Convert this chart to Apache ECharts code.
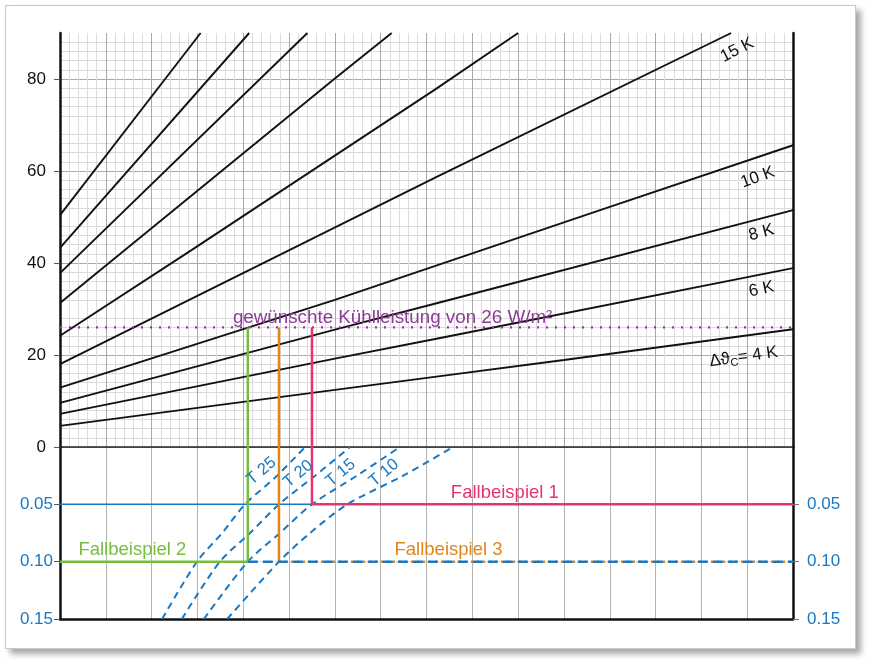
<!DOCTYPE html>
<html><head><meta charset="utf-8">
<script src="https://cdn.jsdelivr.net/npm/echarts@6/dist/echarts.min.js"></script>
<style>
html,body{margin:0;padding:0;background:#fff;}
#card{position:absolute;left:5px;top:5px;width:849px;height:642px;border:1px solid #c8c8c8;background:#fff;box-shadow:5px 5px 6px rgba(0,0,0,0.35);}
#chart{position:absolute;left:0;top:0;width:872px;height:666px;}
</style></head><body>
<div id="card"></div><div id="chart"></div>
<script>
// ---- upper nomogram: cooling power curves (x in grid units, y in W/m²) ----
const line4K  = [[0,4.6],[1,5.9],[4,9.8],[8.3,15.4],[11,18.9],[16,25.6]];
const line6K  = [[0,7.2],[6,19.2],[8.3,23.7],[16,38.9]];
const line8K  = [[0,9.6],[6,25.5],[8.2,31.2],[16,51.5]];
const line10K = [[0,12.9],[6,32.0],[12,52.2],[16,65.6]];
const line15K = [[0,18.0],[8.2,58.6],[14.65,90]];
const lineE   = [[0,24.2],[2.87,42.8],[8.2,77.8],[10.0,90]];
const lineD   = [[0,31.3],[6.0,80.1],[7.24,90]];
const lineC   = [[0,37.8],[5.40,90]];
const lineB   = [[0,43.3],[4.13,90]];
const lineA   = [[0,50.4],[3.07,90]];
const upperLines = [line4K,line6K,line8K,line10K,line15K,lineE,lineD,lineC,lineB,lineA];
const curveLabels = ['15 K','10 K','8 K','6 K','Δϑ_C = 4 K'];

// ---- lower nomogram: T curves (x, value) ----
const curveT25 = [[2.23,0.15],[2.99,0.10],[3.54,0.075],[4.04,0.05],[4.74,0.025],[5.35,0]];
const curveT20 = [[2.66,0.15],[3.49,0.10],[4.15,0.075],[4.78,0.05],[5.57,0.025],[6.33,0]];
const curveT15 = [[3.14,0.15],[4.10,0.10],[4.80,0.075],[5.50,0.05],[6.48,0.025],[7.42,0]];
const curveT10 = [[3.65,0.15],[4.78,0.10],[5.46,0.075],[6.27,0.05],[7.49,0.025],[8.58,0]];
const tLabels = ['T 25','T 20','T 15','T 10'];

// ---- case studies ----
const targetPower = 26;
const targetLabel = 'gewünschte Kühlleistung von 26 W/m²';
const caseNames = ['Fallbeispiel 1','Fallbeispiel 2','Fallbeispiel 3'];
const caseX = [5.5, 4.1, 4.78];       // x position of vertical reading lines
const caseLevel = [0.05, 0.10, 0.10]; // lower scale value
const upperTicks = [0,20,40,60,80];
const lowerTicks = [0.05,0.10,0.15];
const xMax = 16;

const FONT = "'Liberation Sans', Arial, sans-serif";
const C = {black:'#111', purple:'#8e3b97', green:'#76bd3e', orange:'#e0861a', pink:'#e8336f', blue:'#1878c4'};

function line(data, color, width, type, g, extra) {
  return Object.assign({type:'line', data:data, xAxisIndex:g, yAxisIndex:g===0?0:2, symbol:'none', silent:true,
    lineStyle:{color:color, width:width, type:type||'solid'}}, extra||{});
}
function textSeries(g, items) {
  return {type:'scatter', xAxisIndex:g, yAxisIndex:g===0?0:2, symbolSize:0, silent:true, z:20,
    itemStyle:{opacity:1},
    data: items.map(it => ({value:it.p, label:Object.assign({show:true, position:'inside', fontFamily:FONT,
      formatter: it.t, fontSize: it.fs||17, color: it.c, rotate: it.r||0,
      textBorderWidth:0, textBorderColor:'transparent', textShadowBlur:0, opacity:1}, it.extra||{})}))};
}

const series = [];
upperLines.forEach(d => series.push(line(d, C.black, 1.9, 'solid', 0)));
series.push(line([[0,targetPower],[xMax,targetPower]], C.purple, 2.2, [2,7], 0));
// vertical reading lines, upper part
series.push(line([[caseX[1],targetPower],[caseX[1],0]], C.green, 2.5, 'solid', 0, {z:5}));
series.push(line([[caseX[2],targetPower],[caseX[2],0]], C.orange, 2.5, 'solid', 0, {z:5}));
series.push(line([[caseX[0],targetPower],[caseX[0],0]], C.pink, 2.5, 'solid', 0, {z:5}));
// lower part
[curveT25,curveT20,curveT15,curveT10].forEach(d => series.push(line(d, C.blue, 2, [7,5], 1, {smooth:0.3})));
series.push(line([[0,caseLevel[0]],[caseX[0],caseLevel[0]]], C.blue, 1.5, 'solid', 1));
series.push(line([[caseX[0],0],[caseX[0],caseLevel[0]],[xMax,caseLevel[0]]], C.pink, 2.5, 'solid', 1, {z:5}));
series.push(line([[caseX[1],0],[caseX[1],caseLevel[1]],[0,caseLevel[1]]], C.green, 2.5, 'solid', 1, {z:5}));
series.push(line([[caseX[2],0],[caseX[2],caseLevel[2]]], C.orange, 2.5, 'solid', 1, {z:5}));
series.push(line([[caseX[2],caseLevel[2]],[xMax,caseLevel[2]]], C.orange, 2.5, [2,4], 1, {z:4}));
series.push(line([[caseX[1],caseLevel[1]],[xMax,caseLevel[1]]], C.blue, 2.5, [10,5], 1, {z:6}));

// text labels
series.push(textSeries(0, [
  {p:[14.78,86.3], t:curveLabels[0], c:C.black, r:27},
  {p:[15.23,58.6], t:curveLabels[1], c:C.black, r:20},
  {p:[15.31,46.6], t:curveLabels[2], c:C.black, r:15},
  {p:[15.31,34.3], t:curveLabels[3], c:C.black, r:12},
  {p:[14.92,19.6], t:'{a|Δϑ}{s|C}{a|= 4 K}', c:C.black, r:8,
    extra:{rich:{a:{fontSize:17, fontFamily:FONT, color:C.black}, s:{fontSize:11, fontFamily:FONT, color:C.black, padding:[9,0,0,0]}}}},
  {p:[7.26,28.0], t:targetLabel, c:C.purple, fs:18.8}
]));
series.push(textSeries(1, [
  {p:[9.71,0.0404], t:caseNames[0], c:C.pink, fs:18.5},
  {p:[1.58,0.0896], t:caseNames[1], c:C.green, fs:18.5},
  {p:[8.48,0.0896], t:caseNames[2], c:C.orange, fs:18.5},
  {p:[4.40,0.021], t:tLabels[0], c:C.blue, r:40, fs:16.5},
  {p:[5.20,0.0235], t:tLabels[1], c:C.blue, r:40, fs:16.5},
  {p:[6.13,0.0225], t:tLabels[2], c:C.blue, r:40, fs:16.5},
  {p:[7.07,0.0225], t:tLabels[3], c:C.blue, r:40, fs:16.5}
]));

const majorGrid = {show:true, lineStyle:{color:'#a9a9a9', width:1}};
const minorGrid = {show:true, lineStyle:{color:'#dcdcdc', width:1}};
const option = {
  animation:false,
  backgroundColor:'transparent',
  textStyle:{fontFamily:FONT},
  grid:[
    {left:60, right:79, top:33, height:414},
    {left:60, right:79, top:447, height:172}
  ],
  xAxis:[
    {gridIndex:0, type:'value', min:0, max:xMax, interval:1,
      axisLabel:{show:false}, axisTick:{show:false},
      axisLine:{show:true, onZero:false, lineStyle:{color:'#222', width:1.5}},
      splitLine:majorGrid, minorTick:{show:false, splitNumber:5}, minorSplitLine:minorGrid},
    {gridIndex:1, type:'value', min:0, max:xMax, interval:1,
      axisLabel:{show:false}, axisTick:{show:false},
      axisLine:{show:true, onZero:false, lineStyle:{color:'#111', width:2.5}},
      splitLine:{show:true, lineStyle:{color:'#b4b4b4'}}}
  ],
  yAxis:[
    {gridIndex:0, type:'value', min:0, max:90, interval:10,
      axisLine:{show:true, onZero:false, lineStyle:{color:'#111', width:2.5}},
      axisTick:{show:true, customValues:upperTicks, length:6, lineStyle:{color:'#555'}},
      axisLabel:{customValues:upperTicks, fontSize:17, color:'#111', margin:14, fontFamily:FONT},
      splitLine:majorGrid, minorTick:{show:false, splitNumber:5}, minorSplitLine:minorGrid},
    {gridIndex:0, type:'value', position:'right', min:0, max:90, interval:10,
      axisLine:{show:true, onZero:false, lineStyle:{color:'#111', width:2.5}},
      axisTick:{show:false}, axisLabel:{show:false}, splitLine:{show:false}},
    {gridIndex:1, type:'value', inverse:true, min:0, max:0.15, interval:0.01,
      axisLine:{show:true, onZero:false, lineStyle:{color:'#111', width:2.5}},
      axisTick:{show:true, customValues:lowerTicks, length:6, lineStyle:{color:'#555'}},
      axisLabel:{customValues:lowerTicks, fontSize:17, color:C.blue, margin:7, fontFamily:FONT,
        formatter: v => v.toFixed(2)},
      splitLine:{show:true, lineStyle:{color:'#dedede'}}},
    {gridIndex:1, type:'value', position:'right', inverse:true, min:0, max:0.15, interval:0.01,
      axisLine:{show:true, onZero:false, lineStyle:{color:'#111', width:2.5}},
      axisTick:{show:true, customValues:lowerTicks, length:6, lineStyle:{color:'#777'}},
      axisLabel:{customValues:lowerTicks, fontSize:17, color:C.blue, margin:14, fontFamily:FONT,
        formatter: v => v.toFixed(2)},
      splitLine:{show:false}}
  ],
  series: series
};
const chart = echarts.init(document.getElementById('chart'), null, {renderer:'canvas'});
chart.setOption(option);
</script></body></html>
